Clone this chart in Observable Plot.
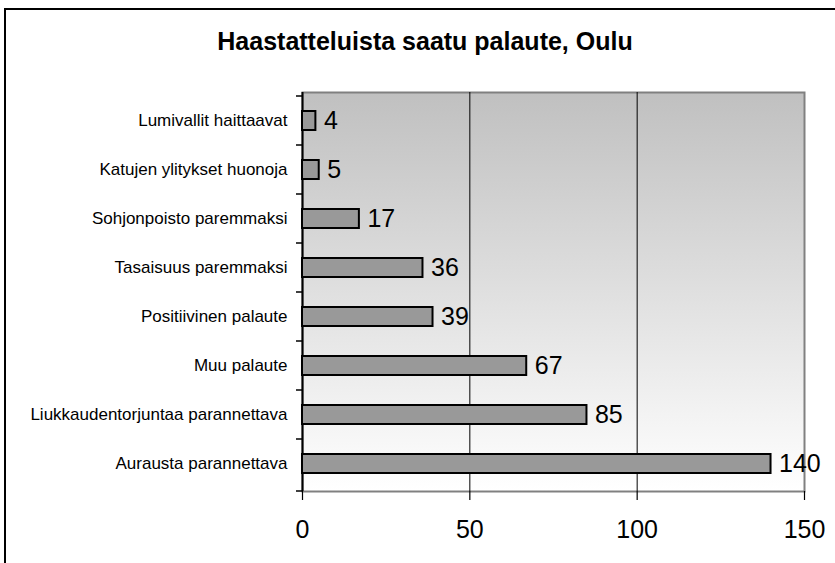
<!DOCTYPE html>
<html><head><meta charset="utf-8">
<script src="https://cdn.jsdelivr.net/npm/d3@7"></script>
<script src="https://cdn.jsdelivr.net/npm/@observablehq/plot@0.6"></script>
<style>
html,body{margin:0;padding:0;background:#fff;overflow:hidden;}
#wrap{position:relative;width:835px;height:563px;overflow:hidden;font-family:Arial,"Liberation Sans",sans-serif;}
#border{position:absolute;left:4px;top:8px;width:2000px;height:2000px;border-left:2px solid #000;border-top:2px solid #000;}
#title{position:absolute;left:0;width:850px;top:29px;text-align:center;font-weight:bold;font-size:25px;line-height:25px;color:#000;}
#chart{position:absolute;left:0;top:0;}
</style></head><body>
<div id="wrap"><div id="border"></div><div id="title">Haastatteluista saatu palaute, Oulu</div><div id="chart"></div></div>
<script>
const categories = [
  "Lumivallit haittaavat",
  "Katujen ylitykset huonoja",
  "Sohjonpoisto paremmaksi",
  "Tasaisuus paremmaksi",
  "Positiivinen palaute",
  "Muu palaute",
  "Liukkaudentorjuntaa parannettava",
  "Aurausta parannettava"
];
const values = [4, 5, 17, 36, 39, 67, 85, 140];
const xTicks = [0, 50, 100, 150];
const gridValues = [50, 100];

const data = categories.map((c, i) => ({category: c, value: values[i]}));

const gradientDefs = () => {
  const defs = d3.create("svg:defs");
  const g = defs.append("linearGradient").attr("id", "bgGrad")
    .attr("x1", 0).attr("y1", 0).attr("x2", 0).attr("y2", 1);
  g.append("stop").attr("offset", "0%").attr("stop-color", "#c0c0c0");
  g.append("stop").attr("offset", "100%").attr("stop-color", "#ffffff");
  return defs.node();
};

const boundaryTicks = (index, scales, vals, dims) => {
  const ys = categories.map(c => scales.y(c));
  ys.push(dims.height - dims.marginBottom);
  const x0 = dims.marginLeft;
  const g = d3.create("svg:g");
  g.selectAll("line").data(ys).join("line")
    .attr("x1", x0 - 6).attr("x2", x0)
    .attr("y1", d => d).attr("y2", d => d)
    .attr("stroke", "#000").attr("stroke-width", 1.5);
  return g.node();
};

const plot = Plot.plot({
  width: 835, height: 563,
  marginLeft: 302, marginRight: 31, marginTop: 92, marginBottom: 72,
  style: {fontFamily: 'Arial,"Liberation Sans",sans-serif', background: "transparent", color: "#000", overflow: "visible"},
  x: {domain: [0, 150]},
  y: {domain: categories, padding: 0},
  marks: [
    gradientDefs,
    Plot.frame({fill: "url(#bgGrad)", stroke: "#808080", strokeWidth: 2}),
    Plot.ruleX(gridValues, {stroke: "#000", strokeWidth: 1}),
    Plot.axisX({ticks: xTicks, tickSize: 9, tickPadding: 20, fontSize: 25, label: null, strokeWidth: 1.2}),
    Plot.axisY({tickSize: 0, tickPadding: 15, fontSize: 17, label: null}),
    boundaryTicks,
    Plot.ruleX([0], {stroke: "#000", strokeWidth: 2}),
    Plot.barX(data, {x: "value", y: "category", fill: "#999999", stroke: "#000", strokeWidth: 2, insetTop: 15, insetBottom: 15}),
    Plot.text(data, {x: "value", y: "category", text: d => String(d.value), textAnchor: "start", dx: 8, fontSize: 25, fill: "#000"})
  ]
});
document.getElementById("chart").appendChild(plot);
</script>
</body></html>
